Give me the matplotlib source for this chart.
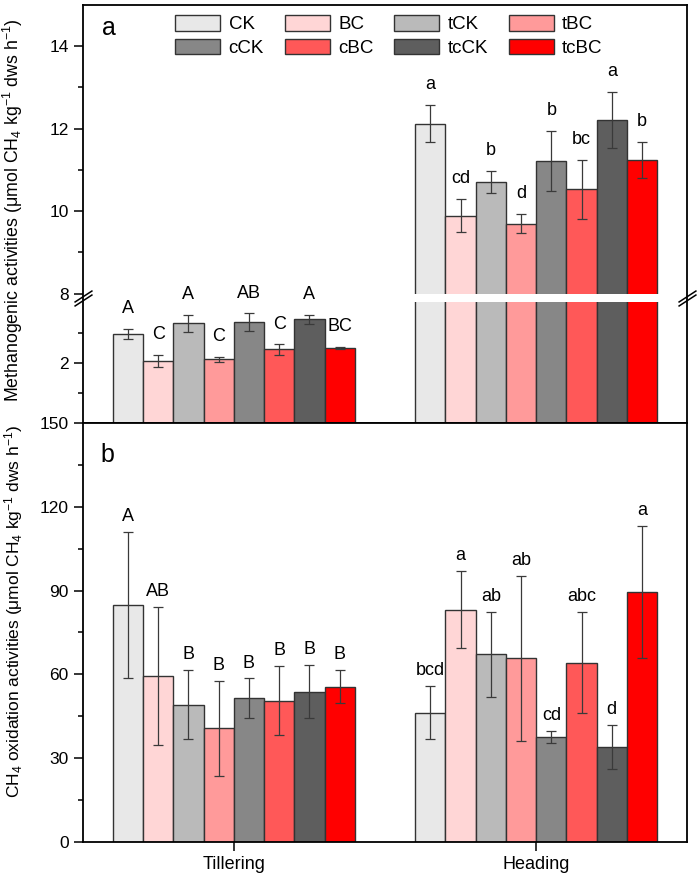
import numpy as np
import matplotlib
matplotlib.use('Agg')
import matplotlib.pyplot as plt
from matplotlib.patches import Patch
from matplotlib import transforms

plt.rcParams['font.family'] = ['Liberation Sans', 'DejaVu Sans']
plt.rcParams['mathtext.fontset'] = 'custom'
plt.rcParams['mathtext.rm'] = 'Liberation Sans'
plt.rcParams['mathtext.it'] = 'Liberation Sans:italic'
plt.rcParams['mathtext.bf'] = 'Liberation Sans:bold'

# ---------------- data ----------------
stages = ['Tillering', 'Heading']
treatments = ['CK', 'BC', 'tCK', 'tBC', 'cCK', 'cBC', 'tcCK', 'tcBC']
colors = ['#E8E8E8', '#FFD6D6', '#BABABA', '#FF9A9A',
          '#878787', '#FF5858', '#5E5E5E', '#FF0000']

meth_till = [2.94, 2.06, 3.30, 2.11, 3.34, 2.44, 3.44, 2.48]
meth_till_err = [0.17, 0.19, 0.27, 0.08, 0.29, 0.17, 0.15, 0.04]
meth_head = [12.12, 9.89, 10.71, 9.70, 11.21, 10.53, 12.21, 11.24]
meth_head_err = [0.45, 0.40, 0.26, 0.23, 0.73, 0.71, 0.69, 0.44]
meth_till_sig = ['A', 'C', 'A', 'C', 'AB', 'C', 'A', 'BC']
meth_head_sig = ['a', 'cd', 'b', 'd', 'b', 'bc', 'a', 'b']

ox_till = [84.8, 59.3, 49.1, 40.7, 51.4, 50.6, 53.8, 55.6]
ox_till_err = [26.2, 24.8, 12.4, 17.0, 7.1, 12.4, 9.4, 5.9]
ox_head = [46.3, 83.2, 67.2, 65.8, 37.6, 64.2, 34.0, 89.5]
ox_head_err = [9.4, 13.8, 15.2, 29.6, 2.2, 18.1, 7.8, 23.8]
ox_till_sig = ['A', 'AB', 'B', 'B', 'B', 'B', 'B', 'B']
ox_head_sig = ['bcd', 'a', 'ab', 'ab', 'cd', 'abc', 'd', 'a']

meth_major = [2, 8, 10, 12, 14]
meth_minor = [1, 3, 9, 11, 13]
ox_major = [0, 30, 60, 90, 120, 150]
ox_minor = [15, 45, 75, 105, 135]

# ---------------- broken scale for panel a ----------------
K_LO, K_GAP, K_HI = 30.3, 8.7 / 4.0, 41.3
B1, B2 = 4.0, 8.0
V1 = B1 * K_LO
V2 = V1 + (B2 - B1) * K_GAP


def fwd(y):
    y = np.asarray(y, dtype=float)
    return np.where(y <= B1, y * K_LO,
                    np.where(y <= B2, V1 + (y - B1) * K_GAP,
                             V2 + (y - B2) * K_HI))


def inv(v):
    v = np.asarray(v, dtype=float)
    return np.where(v <= V1, v / K_LO,
                    np.where(v <= V2, B1 + (v - V1) / K_GAP,
                             B2 + (v - V2) / K_HI))


fig = plt.figure(figsize=(7.0, 8.76), dpi=100)
axa = fig.add_axes([0.118, 0.5168, 0.864, 0.4775])
axb = fig.add_axes([0.118, 0.0392, 0.864, 0.4776])

x = np.arange(1, len(stages) + 1)
width = 0.1
offsets = (np.arange(len(treatments)) - 3.5) * width
err_kw = dict(ecolor='#3a3a3a', elinewidth=0.9, capsize=3.6, capthick=0.9)


def draw(ax, till, till_err, head, head_err, till_sig, head_sig, pad):
    for i, t in enumerate(treatments):
        vals = [till[i], head[i]]
        errs = [till_err[i], head_err[i]]
        ax.bar(x + offsets[i], vals, width=width, yerr=errs, color=colors[i],
               edgecolor='#333333', linewidth=1.0, error_kw=err_kw, label=t,
               zorder=1)
        for xi, v, e, s in zip(x + offsets[i], vals, errs,
                               [till_sig[i], head_sig[i]]):
            ax.annotate(s, (xi, v + e), xytext=(0, pad),
                        textcoords='offset points', ha='center', va='bottom',
                        fontsize=13)


draw(axa, meth_till, meth_till_err, meth_head, meth_head_err,
     meth_till_sig, meth_head_sig, 8.5)
draw(axb, ox_till, ox_till_err, ox_head, ox_head_err,
     ox_till_sig, ox_head_sig, 5.0)

axa.set_yscale('function', functions=(fwd, inv))
axa.set_ylim(0, 15)
axa.set_yticks(meth_major)
axa.set_yticks(meth_minor, minor=True)
axa.axhspan(B1, B2, color='white', zorder=2, lw=0)

axb.set_ylim(0, 150)
axb.set_yticks(ox_major)
axb.set_yticks(ox_minor, minor=True)

for ax in (axa, axb):
    ax.set_xlim(0.5, 2.5)
    ax.set_xticks(x)
    for sp in ax.spines.values():
        sp.set_linewidth(1.3)
        sp.set_color('black')
    ax.tick_params(axis='both', which='major', direction='out', length=6.5,
                   width=1.1, labelsize=12.5, right=False, top=False)
    ax.tick_params(axis='y', which='minor', direction='out', length=3.5,
                   width=1.1)
    ax.tick_params(axis='x', which='minor', bottom=False)

axa.set_xticklabels([])
axb.set_xticklabels(stages, fontsize=13)

# break marks
bt = transforms.blended_transform_factory(axa.transAxes, axa.transData)
mk = dict(marker=[(-1, -0.65), (1, 0.65)], markersize=13, linestyle='none',
          color='k', mec='k', mew=1.1, clip_on=False, transform=bt, zorder=5)
for xp in (0, 1):
    axa.plot([xp, xp], [4.9, 7.1], **mk)

axa.set_ylabel('Methanogenic activities (μmol CH$_4$ kg$^{-1}$ dws h$^{-1}$)',
               fontsize=12.8)
axa.yaxis.set_label_coords(-0.095, 0.51)
axb.set_ylabel('CH$_4$ oxidation activities (μmol CH$_4$ kg$^{-1}$ dws h$^{-1}$)',
               fontsize=12.5)
axb.yaxis.set_label_coords(-0.095, 0.55)

axa.text(0.032, 0.928, 'a', transform=axa.transAxes, fontsize=18,
         va='baseline', ha='left')
axb.text(0.029, 0.9075, 'b', transform=axb.transAxes, fontsize=18,
         va='baseline', ha='left')

order = [0, 4, 1, 5, 2, 6, 3, 7]
leg_handles = [Patch(facecolor=colors[i], edgecolor='#333333', linewidth=1.0)
               for i in order]
leg_labels = [treatments[i] for i in order]
axa.legend(leg_handles, leg_labels, ncol=4, loc='upper left',
           bbox_to_anchor=(0.153, 0.976), frameon=False, fontsize=13.5,
           handlelength=2.4, handleheight=0.9, handletextpad=0.45,
           columnspacing=1.1, labelspacing=0.3, borderpad=0,
           borderaxespad=0)

fig.savefig('out.png', dpi=100)
